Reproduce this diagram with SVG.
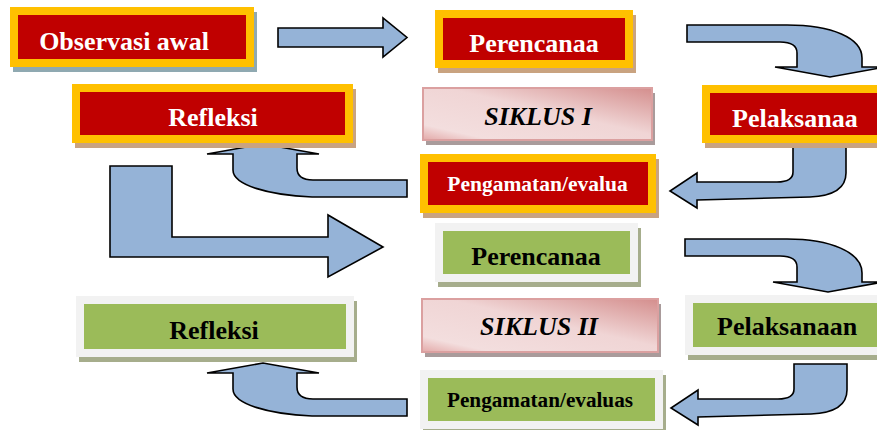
<svg xmlns="http://www.w3.org/2000/svg" width="877" height="430" viewBox="0 0 877 430">
<defs>
<linearGradient id="pink" x1="1" y1="0" x2="0" y2="1">
<stop offset="0" stop-color="#d48e8d"/>
<stop offset="0.45" stop-color="#f0d5d5"/>
<stop offset="0.85" stop-color="#f3dede"/>
<stop offset="1" stop-color="#e3a9a8"/>
</linearGradient>
<style>
.red{fill:#c00000;stroke:#ffc000;stroke-width:8}
.grn{fill:#9bbb59;stroke:#f2f2f2;stroke-width:8}
.sk{fill:url(#pink);stroke:#dba0a0;stroke-width:2}
.shT{fill:#c9a380}
.shB{fill:#8fa9b1}
.shG{fill:#a6ad8c}
.shP{fill:#a99b9b}
.t{font-family:"Liberation Serif","Times New Roman",serif;font-weight:bold;font-size:26px}
.w{fill:#ffffff}
.k{fill:#000000}
.i{font-style:italic}
.arr{fill:#95b3d7;stroke:#000;stroke-width:1.6;stroke-linejoin:miter}
</style>
</defs>
<rect width="877" height="430" fill="#ffffff"/>

<g id="connectors">
<path class="arr" d="M278,28 L383,28 L383,18 L407,37.5 L383,57 L383,47 L278,47 Z"/>
<path class="arr" d="M687,25 L787,25 C832,25 862,38 862,58 L862,67 L885,67 L830,77 L775,67 L797,67 L797,53 C797,46 791,42 780,42 L687,42 Z"/>
<path class="arr" d="M793,147 L846,147 L846,173 C846,189 832,196 810,197 L697,200 L697,208 L670,191 L697,173 L697,182 L777,182 C789,182 793,178 793,172 Z"/>
<path class="arr" d="M207,154 L263,144 L319,154 L297,154 L297,168 C297,176 303,180 313,180 L407,180 L407,197 L312,197 C268,195 233,185 233,170 L233,154 Z"/>
<path class="arr" d="M110,166 L172,166 L172,237 L328,237 L328,215 L383,247 L328,277 L328,257 L110,257 Z"/>
<path class="arr" d="M685,239 L787,239 C830,239 862,252 862,273 L862,282 L883,282 L828,292 L773,282 L797,282 L797,267 C797,260 791,256 780,256 L685,256 Z"/>
<path class="arr" transform="translate(1,217)" d="M793,147 L846,147 L846,173 C846,189 832,196 810,197 L697,200 L697,208 L670,191 L697,173 L697,182 L777,182 C789,182 793,178 793,172 Z"/>
<path class="arr" transform="translate(0,219)" d="M207,154 L263,144 L319,154 L297,154 L297,168 C297,176 303,180 313,180 L407,180 L407,197 L312,197 C268,195 233,185 233,170 L233,154 Z"/>
</g>

<g id="observasi">
<rect class="shB" x="13" y="12" width="244" height="60"/>
<rect class="red" x="14" y="11" width="236" height="52"/>
<text class="t w" x="124" y="50" text-anchor="middle">Observasi awal</text>
</g>

<g id="perencanaan1">
<rect class="shT" x="438" y="15" width="198" height="58"/>
<rect class="red" x="439" y="14" width="190" height="50"/>
<text class="t w" x="534" y="52" text-anchor="middle">Perencanaa</text>
</g>

<g id="pelaksanaan1">
<rect class="shT" x="705" y="90" width="188" height="58"/>
<rect class="red" x="706" y="89" width="180" height="50"/>
<text class="t w" x="732" y="127">Pelaksanaa</text>
</g>

<g id="siklus1">
<rect class="shP" x="426" y="93" width="229" height="52"/>
<rect class="sk" x="423" y="88" width="229" height="52"/>
<text class="t k i" x="538" y="125" text-anchor="middle">SIKLUS I</text>
</g>

<g id="refleksi1">
<rect class="shT" x="75" y="89" width="281" height="59"/>
<rect class="red" x="76" y="88" width="273" height="51"/>
<text class="t w" x="213" y="126" text-anchor="middle">Refleksi</text>
</g>

<g id="pengamatan1">
<rect class="shT" x="423" y="159" width="236" height="59"/>
<rect class="red" x="424" y="158" width="228" height="51"/>
<text class="t w" x="537.5" y="191" text-anchor="middle" style="font-size:21.5px">Pengamatan/evalua</text>
</g>

<g id="perencanaan2">
<rect class="shG" x="438" y="228" width="203" height="59"/>
<rect class="grn" x="439" y="227" width="195" height="51"/>
<text class="t k" x="536" y="265" text-anchor="middle">Perencanaa</text>
</g>

<g id="siklus2">
<rect class="shP" x="425" y="304" width="236" height="53"/>
<rect class="sk" x="422" y="299" width="236" height="53"/>
<text class="t k i" x="539" y="335" text-anchor="middle">SIKLUS II</text>
</g>

<g id="pelaksanaan2">
<rect class="shG" x="688" y="300" width="204" height="60"/>
<rect class="grn" x="689" y="299" width="196" height="52"/>
<text class="t k" x="717" y="335">Pelaksanaan</text>
</g>

<g id="refleksi2">
<rect class="shG" x="79" y="301" width="278" height="61"/>
<rect class="grn" x="80" y="300" width="270" height="53"/>
<text class="t k" x="214" y="339" text-anchor="middle">Refleksi</text>
</g>

<g id="pengamatan2">
<rect class="shG" x="423" y="375" width="243" height="59"/>
<rect class="grn" x="424" y="374" width="235" height="51"/>
<text class="t k" x="540" y="407" text-anchor="middle" style="font-size:21.2px">Pengamatan/evaluas</text>
</g>
</svg>
